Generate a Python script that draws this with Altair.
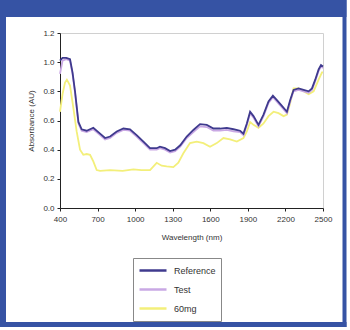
import altair as alt
import pandas as pd

ref_wl = [400, 420, 450, 480, 500, 520, 547, 573, 613, 666, 720, 760, 800, 853, 906, 959, 1012, 1066, 1119, 1172,
          1198, 1239, 1279, 1319, 1360, 1412, 1465, 1518, 1572, 1625, 1678, 1732, 1785, 1838, 1865, 1892, 1918, 1945,
          1985, 2025, 2065, 2100, 2132, 2172, 2212, 2238, 2265, 2305, 2345, 2385, 2412, 2438, 2465, 2484, 2500]
ref_val = [1.01, 1.03, 1.03, 1.02, 0.93, 0.80, 0.59, 0.54, 0.53, 0.55, 0.51, 0.48, 0.49, 0.525, 0.545, 0.54, 0.50,
           0.455, 0.41, 0.41, 0.42, 0.41, 0.39, 0.40, 0.43, 0.49, 0.535, 0.575, 0.57, 0.545, 0.545, 0.55, 0.54, 0.53,
           0.51, 0.58, 0.66, 0.63, 0.57, 0.64, 0.73, 0.77, 0.74, 0.70, 0.66, 0.74, 0.81, 0.82, 0.81, 0.80, 0.82, 0.88,
           0.95, 0.98, 0.97]
test_val = [0.92, 1.01, 1.02, 1.01, 0.92, 0.79, 0.58, 0.53, 0.52, 0.54, 0.50, 0.47, 0.48, 0.515, 0.535, 0.53, 0.49,
            0.445, 0.40, 0.40, 0.41, 0.40, 0.38, 0.39, 0.42, 0.48, 0.52, 0.56, 0.555, 0.53, 0.53, 0.535, 0.525, 0.52,
            0.50, 0.57, 0.65, 0.62, 0.56, 0.63, 0.72, 0.76, 0.73, 0.69, 0.65, 0.73, 0.80, 0.81, 0.80, 0.79, 0.81, 0.87,
            0.94, 0.97, 0.96]
mg_wl = [400, 420, 440, 455, 480, 506, 533, 560, 586, 613, 640, 666, 693, 720, 800, 900, 986, 1050, 1119, 1172, 1212,
         1252, 1305, 1345, 1385, 1438, 1492, 1545, 1598, 1652, 1705, 1758, 1812, 1865, 1892, 1918, 1945, 1985, 2025,
         2065, 2105, 2145, 2185, 2212, 2238, 2265, 2305, 2345, 2385, 2425, 2465, 2492, 2500]
mg_val = [0.66, 0.78, 0.86, 0.88, 0.84, 0.69, 0.525, 0.40, 0.365, 0.37, 0.365, 0.32, 0.26, 0.255, 0.26, 0.255, 0.265,
          0.26, 0.26, 0.31, 0.29, 0.285, 0.28, 0.31, 0.375, 0.445, 0.455, 0.445, 0.42, 0.445, 0.48, 0.47, 0.455, 0.48,
          0.525, 0.59, 0.57, 0.55, 0.58, 0.63, 0.66, 0.65, 0.63, 0.64, 0.72, 0.82, 0.82, 0.80, 0.78, 0.80, 0.88, 0.93,
          0.93]
series_names = ["Reference", "Test", "60mg"]
series_colors = ["#3f3a8e", "#c9a8e4", "#f3ef7a"]
x_ticks = [400, 700, 1000, 1300, 1600, 1900, 2200, 2500]
y_ticks = [0.0, 0.2, 0.4, 0.6, 0.8, 1.0, 1.2]

rows = []
for w, v in zip(mg_wl, mg_val):
    rows.append({"wl": w, "val": v, "series": "60mg", "ord": 0})
for w, v in zip(ref_wl, test_val):
    rows.append({"wl": w, "val": v, "series": "Test", "ord": 1})
for w, v in zip(ref_wl, ref_val):
    rows.append({"wl": w, "val": v, "series": "Reference", "ord": 2})
df = pd.DataFrame(rows)

FONT = "Liberation Sans"
BLUE = "#3653a4"

lines = alt.Chart(df).mark_line(strokeWidth=1.8).encode(
    x=alt.X("wl:Q", scale=alt.Scale(domain=[400, 2500], nice=False),
            axis=alt.Axis(values=x_ticks, format="d", title="Wavelength (nm)", grid=False, domainColor="#222",
                          tickColor="#222", tickSize=3, labelPadding=4, titlePadding=10, labelFlush=False,
                          labelFontSize=8, titleFontSize=8, titleFontWeight="normal", labelColor="#333",
                          titleColor="#333", labelFont=FONT, titleFont=FONT)),
    y=alt.Y("val:Q", scale=alt.Scale(domain=[0, 1.2], nice=False),
            axis=alt.Axis(values=y_ticks, format=".1f", title="Absorbance (AU)", grid=False, labelFlush=False,
                          domainColor="#222", tickColor="#222", tickSize=3, labelPadding=3, titlePadding=7,
                          labelFontSize=8, titleFontSize=8, titleFontWeight="normal", labelColor="#333",
                          titleColor="#333", labelFont=FONT, titleFont=FONT)),
    color=alt.Color("series:N", scale=alt.Scale(domain=series_names, range=series_colors),
                    legend=alt.Legend(title=None, orient="none", legendX=73, legendY=225,
                                      symbolType="stroke", symbolSize=729, symbolStrokeWidth=2.5,
                                      clipHeight=15, rowPadding=4, labelFontSize=9, labelFont=FONT,
                                      labelColor="#333", labelOffset=6, labelLimit=200,
                                      strokeColor="#888", padding=5, fillColor="white")),
    detail="series:N",
    order=alt.Order("ord:Q"),
)

one = alt.Data(values=[{}])
top_bar = alt.Chart(one).mark_rect(color=BLUE).encode(
    x=alt.value(-60), x2=alt.value(286.5), y=alt.value(-33), y2=alt.value(-16))
left_bar = alt.Chart(one).mark_rect(color=BLUE).encode(
    x=alt.value(-60), x2=alt.value(-54), y=alt.value(-33), y2=alt.value(294))
right_bar = alt.Chart(one).mark_rect(color=BLUE).encode(
    x=alt.value(282.5), x2=alt.value(286.5), y=alt.value(-33), y2=alt.value(294))
bottom_bar = alt.Chart(one).mark_rect(color=BLUE).encode(
    x=alt.value(-60), x2=alt.value(286.5), y=alt.value(289), y2=alt.value(294))

chart = alt.layer(top_bar, left_bar, right_bar, bottom_bar, lines).properties(
    width=263, height=175,
    autosize=alt.AutoSizeParams(type="none"),
    padding={"left": 60, "top": 33, "right": 27, "bottom": 122},
    background="white",
).configure_view(stroke="#d0d0d0", strokeWidth=1)

chart.save("out.html", embed_options={"renderer": "svg", "actions": False})
